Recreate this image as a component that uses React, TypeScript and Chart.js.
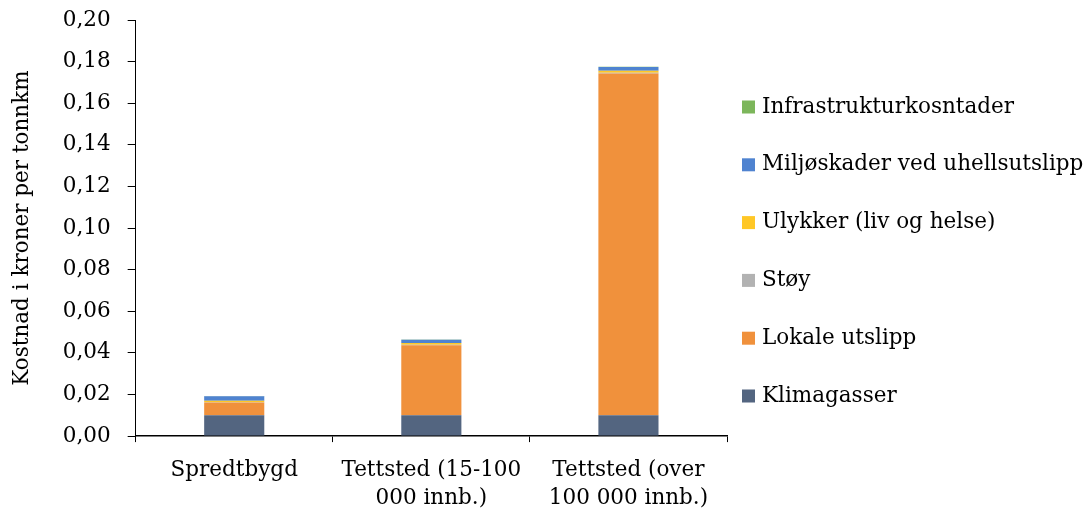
import React, { useEffect, useRef } from "react";
import { Chart, registerables } from "chart.js";

Chart.register(...registerables);

const categories: string[][] = [
  ["Spredtbygd"],
  ["Tettsted (15-100", "000 innb.)"],
  ["Tettsted (over", "100 000 innb.)"],
];

const klimagasser = [0.01, 0.01, 0.01];
const lokaleUtslipp = [0.0061, 0.0337, 0.1643];
const stoy = [0.0002, 0.0002, 0.0003];
const ulykker = [0.0007, 0.0008, 0.0010];
const miljoskader = [0.0022, 0.0016, 0.0018];
const infrastruktur = [0.0001, 0.0001, 0.0001];

const yTicks = [0, 0.02, 0.04, 0.06, 0.08, 0.1, 0.12, 0.14, 0.16, 0.18, 0.2];

const FONT = "'DejaVu Serif', serif";
const FS = 21.5;

const sideLegend = {
  id: "sideLegend",
  afterDraw(chart: any) {
    const ctx = chart.ctx;
    const ds = chart.data.datasets;
    const x = chart.chartArea.right + 15;
    const step = 57.8;
    const center = chart.height / 2 - 5;
    const y0 = center - ((ds.length - 1) / 2) * step;
    ctx.save();
    ctx.font = `${FS}px ${FONT}`;
    ctx.textBaseline = "middle";
    ctx.textAlign = "left";
    for (let k = 0; k < ds.length; k++) {
      const d = ds[ds.length - 1 - k];
      const y = y0 + k * step;
      ctx.fillStyle = d.backgroundColor;
      ctx.fillRect(x, y - 6.5, 13, 13);
      ctx.fillStyle = "#000";
      ctx.fillText(d.label, x + 20, y);
    }
    ctx.restore();
  },
};

export default function App() {
  const ref = useRef<HTMLCanvasElement | null>(null);
  useEffect(() => {
    if (!ref.current) return;
    const chart = new Chart(ref.current, {
      type: "bar",
      data: {
        labels: categories,
        datasets: [
          { label: "Klimagasser", data: klimagasser, backgroundColor: "#536580" },
          { label: "Lokale utslipp", data: lokaleUtslipp, backgroundColor: "#F0913C" },
          { label: "Støy", data: stoy, backgroundColor: "#B2B2B2" },
          { label: "Ulykker (liv og helse)", data: ulykker, backgroundColor: "#FFC726" },
          { label: "Miljøskader ved uhellsutslipp", data: miljoskader, backgroundColor: "#4F83D0" },
          { label: "Infrastrukturkosntader", data: infrastruktur, backgroundColor: "#7CB65B" },
        ],
      },
      plugins: [sideLegend],
      options: {
        animation: false,
        responsive: true,
        maintainAspectRatio: false,
        layout: { padding: { top: 20, right: 364, bottom: -13, left: 10 } },
        datasets: { bar: { barPercentage: 0.305, categoryPercentage: 1 } },
        plugins: {
          legend: { display: false },
          tooltip: { enabled: false },
        },
        scales: {
          x: {
            stacked: true,
            border: { display: true, color: "#000", width: 1.5 },
            grid: {
              display: true,
              offset: true,
              drawOnChartArea: false,
              drawTicks: true,
              tickLength: 6,
              color: "#000",
            },
            ticks: {
              color: "#000",
              padding: 14,
              maxRotation: 0,
              font: { family: FONT, size: FS, lineHeight: 1.3 },
            },
          },
          y: {
            stacked: true,
            min: 0,
            max: 0.2,
            afterBuildTicks: (axis: any) => {
              axis.ticks = yTicks.map((v) => ({ value: v }));
            },
            afterFit: (axis: any) => {
              axis.paddingTop = 0;
            },
            border: { display: true, color: "#000", width: 1 },
            grid: {
              display: true,
              drawOnChartArea: false,
              drawTicks: true,
              tickLength: 8,
              color: "#000",
            },
            ticks: {
              color: "#000",
              padding: 17,
              font: { family: FONT, size: FS },
              callback: (v: any) => Number(v).toFixed(2).replace(".", ","),
            },
            title: {
              display: true,
              text: "Kostnad i kroner per tonnkm",
              color: "#000",
              font: { family: FONT, size: FS },
              padding: { top: 0, bottom: 10 },
            },
          },
        },
      },
    });
    return () => chart.destroy();
  }, []);
  return (
    <div style={{ position: "absolute", left: 0, top: 0, width: 1091, height: 513 }}>
      <canvas ref={ref} />
    </div>
  );
}
